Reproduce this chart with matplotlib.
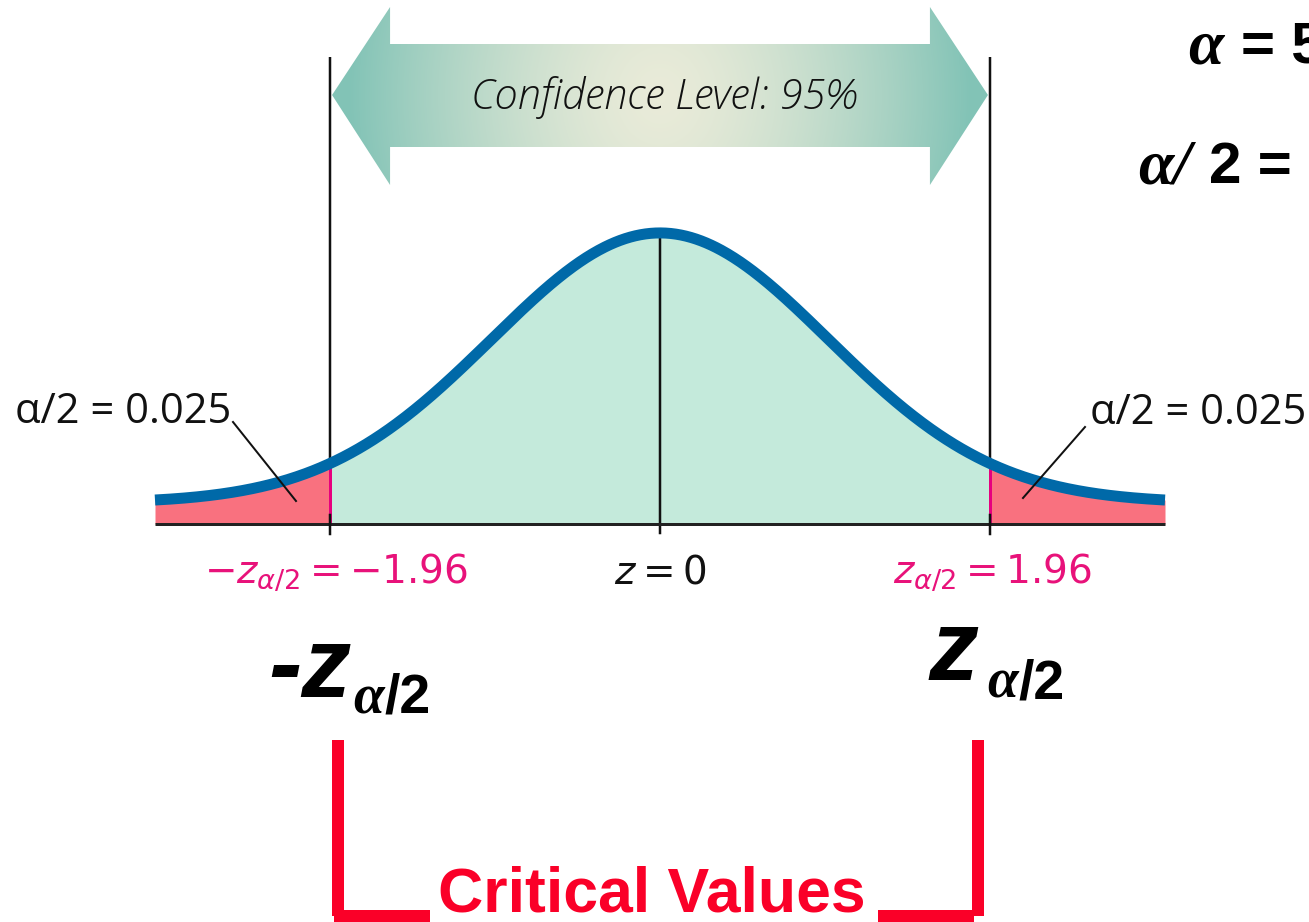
import numpy as np
import matplotlib
matplotlib.use("Agg")
import matplotlib.pyplot as plt
from matplotlib import font_manager
from matplotlib.patches import Polygon

# ---------------- data ----------------
z_range = [-3.0, 3.0]          # extent of the drawn curve
z_crit = 1.96                  # critical value
alpha = 0.05
conf_label = "Confidence Level: 95%"
tail_label = "α/2 = 0.025"
left_crit_label = r"$-z_{\alpha/2} = -\mathit{1.96}$"
center_label = r"$z = \mathit{0}$"
right_crit_label = r"$z_{\alpha/2} = \mathit{1.96}$"
bracket_label = "Critical Values"

# ---------------- fonts ----------------
installed = {f.name for f in font_manager.fontManager.ttflist}
def pick(*names):
    for n in names:
        if n in installed:
            return n
    return "DejaVu Sans"
SANS_B = pick("Liberation Sans", "Arimo", "DejaVu Sans")
NARROW = pick("Liberation Sans Narrow", "Liberation Sans")
SERIF = pick("Liberation Serif", "DejaVu Serif")
HAND = pick("Open Sans", "Lato", "DejaVu Sans")

W, H = 1309, 922
fig = plt.figure(figsize=(W / 100, H / 100), dpi=100)
ax = fig.add_axes([0, 0, 1, 1])

# pixel layout of the curve area
px_left, px_right = 155, 1165
px_base = 524
base_val = -0.031
ppu = 677.0  # pixels per density unit
xpp = (z_range[1] - z_range[0]) / (px_right - px_left)
ax.set_xlim(z_range[0] - px_left * xpp, z_range[1] + (W - px_right) * xpp)
ax.set_ylim(base_val - (H - px_base) / ppu, base_val + px_base / ppu)
ax.axis("off")

def P(px, py):
    """pixel (from top-left) -> data coords"""
    x0, x1 = ax.get_xlim()
    y0, y1 = ax.get_ylim()
    return x0 + px / W * (x1 - x0), y1 - py / H * (y1 - y0)

def lw(px):
    return px * 0.72

# ---------------- curve ----------------
z = np.linspace(z_range[0], z_range[1], 800)
pdf = np.exp(-z ** 2 / 2) / np.sqrt(2 * np.pi)
mid = np.abs(z) <= z_crit
ax.fill_between(z, base_val, pdf, where=mid, color="#c4eadb", lw=0, interpolate=True, zorder=1)
ax.fill_between(z, base_val, pdf, where=z <= -z_crit, color="#f9717f", lw=0, interpolate=True, zorder=1)
ax.fill_between(z, base_val, pdf, where=z >= z_crit, color="#f9717f", lw=0, interpolate=True, zorder=1)

pdf_c = np.exp(-z_crit ** 2 / 2) / np.sqrt(2 * np.pi)
pdf_0 = 1 / np.sqrt(2 * np.pi)
for s in (-1, 1):
    ax.plot([s * z_crit, s * z_crit], [base_val, pdf_c], color="#e6007e", lw=lw(3), zorder=2)
    ax.plot([s * z_crit, s * z_crit], [pdf_c, P(0, 57)[1]], color="#111111", lw=lw(2.5), zorder=2,
            solid_capstyle="butt")
    ax.plot([s * z_crit, s * z_crit], [P(0, 515)[1], P(0, 534)[1]], color="#111111", lw=lw(2.5), zorder=4)
ax.plot([0, 0], [pdf_0, P(0, 533)[1]], color="#111111", lw=lw(2.5), zorder=2)
ax.plot(z_range, [base_val, base_val], color="#222222", lw=lw(3), zorder=3, solid_capstyle="butt")
ax.plot(z, pdf, color="#0069a8", lw=lw(11), zorder=5, solid_capstyle="butt")

# ---------------- gradient double arrow ----------------
ty, sh_top, sh_bot, hd_top, hd_bot = 95, 44, 147, 7, 185
head_len = 58 * xpp
xl, xr = -z_crit + 2 * xpp, z_crit - 2 * xpp
yv = lambda py: P(0, py)[1]
verts = [(xl, yv(ty)), (xl + head_len, yv(hd_top)), (xl + head_len, yv(sh_top)),
         (xr - head_len, yv(sh_top)), (xr - head_len, yv(hd_top)), (xr, yv(ty)),
         (xr - head_len, yv(hd_bot)), (xr - head_len, yv(sh_bot)), (xl + head_len, yv(sh_bot)),
         (xl + head_len, yv(hd_bot))]
poly = Polygon(verts, closed=True, facecolor="none", edgecolor="none")
ax.add_patch(poly)
gx = np.linspace(-1, 1, 400)
gy = np.linspace(-1, 1, 120)
GX, GY = np.meshgrid(gx, gy)
r = np.clip(np.sqrt((GX / 0.95) ** 2 + (GY * 0.25) ** 2), 0, 1) ** 1.5
c_center = np.array([0.915, 0.922, 0.850])
c_edge = np.array([0.51, 0.765, 0.715])
img = c_center[None, None, :] * (1 - r[..., None]) + c_edge[None, None, :] * r[..., None]
im = ax.imshow(img, extent=[xl, xr, yv(hd_bot), yv(hd_top)], aspect="auto", zorder=1.5,
               interpolation="bilinear")
im.set_clip_path(poly)

ax.text(*P(664, 97), conf_label, fontsize=30, family=HAND, fontstyle="italic", fontweight="light",
        ha="center", va="center", color="#111111", zorder=6)

# ---------------- tail labels ----------------
ax.text(*P(15, 423), tail_label, fontsize=30, family=HAND, ha="left", va="baseline", color="#111111")
ax.text(*P(1090, 424), tail_label, fontsize=30, family=HAND, ha="left", va="baseline", color="#111111")
ax.plot(*zip(P(233, 422), P(296, 501)), color="#111111", lw=lw(2), zorder=6)
ax.plot(*zip(P(1085, 427), P(1023, 498)), color="#111111", lw=lw(2), zorder=6)

# ---------------- axis labels ----------------
pink = "#e8127a"
ax.text(*P(336, 572), left_crit_label, fontsize=28, color=pink, ha="center", va="center")
ax.text(*P(660, 572), center_label, fontsize=28, color="#111111", ha="center", va="center")
ax.text(*P(992, 572), right_crit_label, fontsize=28, color=pink, ha="center", va="center")

# ---------------- big critical value labels ----------------
ax.text(*P(268, 697), "-z", fontsize=72, family=SANS_B, fontweight="bold", fontstyle="italic",
        ha="left", va="baseline", color="black")
ax.text(*P(353, 713), "α", fontsize=40, family=SERIF, fontweight="bold", fontstyle="italic",
        ha="left", va="baseline", color="black")
ax.text(*P(384, 713), "/2", fontsize=40, family=SANS_B, fontweight="bold",
        ha="left", va="baseline", color="black")
ax.text(*P(928, 680), "z", fontsize=72, family=SANS_B, fontweight="bold", fontstyle="italic",
        ha="left", va="baseline", color="black")
ax.text(*P(987, 698), "α", fontsize=40, family=SERIF, fontweight="bold", fontstyle="italic",
        ha="left", va="baseline", color="black")
ax.text(*P(1018, 698), "/2", fontsize=40, family=SANS_B, fontweight="bold",
        ha="left", va="baseline", color="black")

# ---------------- top-right alpha text (runs off the edge, as in the source) ----------------
ax.text(*P(1188, 63), "α", fontsize=46, family=SERIF, fontweight="bold", fontstyle="italic",
        ha="left", va="baseline", color="black")
ax.text(*P(1241, 63), f"= {alpha*100:g}%", fontsize=42, family=SANS_B, fontweight="bold",
        ha="left", va="baseline", color="black")
ax.text(*P(1138, 183), "α/", fontsize=46, family=SERIF, fontweight="bold", fontstyle="italic",
        ha="left", va="baseline", color="black")
ax.text(*P(1209, 183), f"2 = {alpha*50:g}%", fontsize=42, family=SANS_B, fontweight="bold",
        ha="left", va="baseline", color="black")

# ---------------- red bracket ----------------
red = "#fa0028"
bx_l, bx_r = 338, 978
ax.plot(*zip(P(bx_l, 740), P(bx_l, 916)), color=red, lw=lw(12), solid_capstyle="butt")
ax.plot(*zip(P(bx_r, 740), P(bx_r, 916)), color=red, lw=lw(12), solid_capstyle="butt")
ax.plot(*zip(P(334, 916), P(430, 916)), color=red, lw=lw(12), solid_capstyle="butt")
ax.plot(*zip(P(878, 916), P(974, 916)), color=red, lw=lw(12), solid_capstyle="butt")
ax.text(*P(652, 911), bracket_label, fontsize=45, family=NARROW, fontweight="bold",
        ha="center", va="baseline", color=red)

fig.savefig("out.png", dpi=100, facecolor="white")
